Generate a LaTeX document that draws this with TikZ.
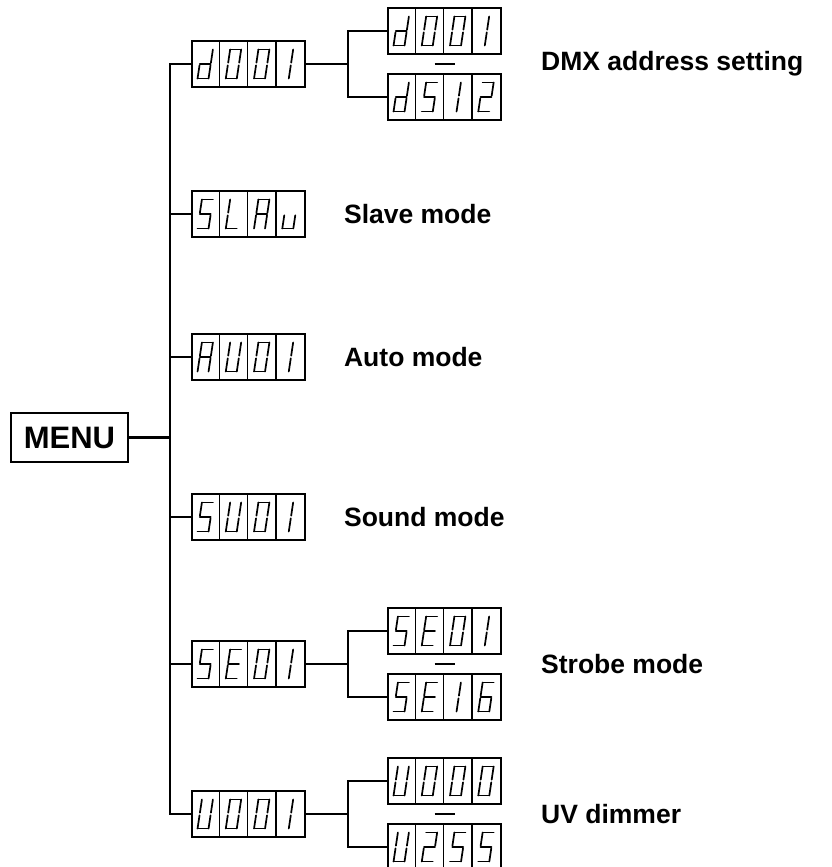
\documentclass[tikz,border=0pt]{standalone}
\usepackage{fontspec}
\setmainfont{Liberation Sans}
\usetikzlibrary{positioning, calc}

% segments lit for each character of the display
\newcommand{\defglyph}[2]{\expandafter\def\csname gl-#1\endcsname{#2}}
\defglyph{0}{a,b,c,d,e,f}
\defglyph{1}{i,j}
\defglyph{2}{a,b,g,e,d}
\defglyph{5}{a,f,g,c,d}
\defglyph{6}{a,f,g,c,d,e}
\defglyph{d}{b,c,d,e,g}
\defglyph{L}{f,e,d}
\defglyph{A}{a,b,c,e,f,g}
\defglyph{u}{c,d,e}
\defglyph{U}{b,c,d,e,f}
\defglyph{E}{a,f,g,e,d}

% one four digit display: name, placement, characters
\newcommand{\panel}[3]{%
  \node[display, #2] (#1) {};
  \foreach \ch [count=\i] in {#3} {
    \edef\seglist{\csname gl-\ch\endcsname}
    \begin{scope}[shift={(#1.west)}, xshift=\i*28.25-14.125, xslant=0.15]
      \foreach \s in \seglist {\draw[segment, sg \s];}
    \end{scope}
  }
  \foreach \i in {1,2,3}
    \draw[cell] ([xshift=\i*28.25]#1.north west) -- ([xshift=\i*28.25]#1.south west);
}

\begin{document}
\begin{tikzpicture}[x=1pt, y=-1pt,
    conn/.style = {line width=2.3pt},
    display/.style = {draw, line width=1.8pt, minimum width=113pt,
        minimum height=46pt, inner sep=0pt},
    cell/.style = {line width=1.4pt},
    segment/.style = {line width=1.7pt, line cap=round},
    lbl/.style = {font=\fontsize{26.5}{30}\selectfont\bfseries,
        anchor=west, inner sep=0pt},
    sg a/.style = {insert path={(-5.5,-14.5) -- (5.5,-14.5)}},
    sg b/.style = {insert path={(5.5,-14.5) -- (5.5,-1.3)}},
    sg c/.style = {insert path={(5.5,1.3) -- (5.5,14.5)}},
    sg d/.style = {insert path={(-5.5,14.5) -- (5.5,14.5)}},
    sg e/.style = {insert path={(-5.5,1.3) -- (-5.5,14.5)}},
    sg f/.style = {insert path={(-5.5,-14.5) -- (-5.5,-1.3)}},
    sg g/.style = {insert path={(-5.5,0) -- (5.5,0)}},
    sg i/.style = {insert path={(1,-14.5) -- (1,-1.3)}},
    sg j/.style = {insert path={(1,1.3) -- (1,14.5)}}]

    \useasboundingbox (0,0) rectangle (832,867);

    % Menu
    \node (menu) [draw, line width=1.8pt, minimum width=117pt,
        minimum height=49pt, inner sep=0pt,
        font=\fontsize{31}{36}\selectfont\bfseries] at (69.5,437.5) {MENU};

    % Main displays
    \panel{d1}{at={(248.5,64)}}{d,0,0,1}
    \panel{d2}{at={(248.5,214)}}{5,L,A,u}
    \panel{d3}{at={(248.5,357)}}{A,U,0,1}
    \panel{d4}{at={(248.5,517)}}{5,U,0,1}
    \panel{d5}{at={(248.5,664)}}{5,E,0,1}
    \panel{d6}{at={(248.5,814)}}{U,0,0,1}

    % Ranges
    \panel{d1a}{on grid, above right=33pt and 196pt of d1}{d,0,0,1}
    \panel{d1b}{on grid, below right=33pt and 196pt of d1}{d,5,1,2}
    \panel{d5a}{on grid, above right=33pt and 196pt of d5}{5,E,0,1}
    \panel{d5b}{on grid, below right=33pt and 196pt of d5}{5,E,1,6}
    \panel{d6a}{on grid, above right=33pt and 196pt of d6}{U,0,0,0}
    \panel{d6b}{on grid, below right=33pt and 196pt of d6}{U,2,5,5}

    % Labels
    \node (l1) [lbl] at (541,64) {DMX address setting};
    \node (l2) [lbl, right=38pt of d2] {Slave mode};
    \node (l3) [lbl, right=38pt of d3] {Auto mode};
    \node (l4) [lbl, right=38pt of d4] {Sound mode};
    \node (l5) [lbl] at (541,664) {Strobe mode};
    \node (l6) [lbl] at (541,814) {UV dimmer};

    % Lines
    \coordinate (bus) at (170,437.5);
    \draw[conn] (menu.east) -- (bus);
    \draw[conn] (d1.west) -| (bus) |- (d6.west);
    \foreach \r in {d2,d3,d4,d5}
        \draw[conn] (\r.west) -- (\r.west -| bus);

    \foreach \r in {d1,d5,d6} {
        \draw[conn] (\r.east) -- ++(42,0) coordinate (\r j);
        \draw[conn] (\r a.west) -| (\r j) |- (\r b.west);
        \coordinate (\r m) at ($(\r a.south)!.5!(\r b.north)$);
        \draw[conn] ([xshift=-10pt]\r m) -- ([xshift=10pt]\r m);
    }
\end{tikzpicture}
\end{document}
